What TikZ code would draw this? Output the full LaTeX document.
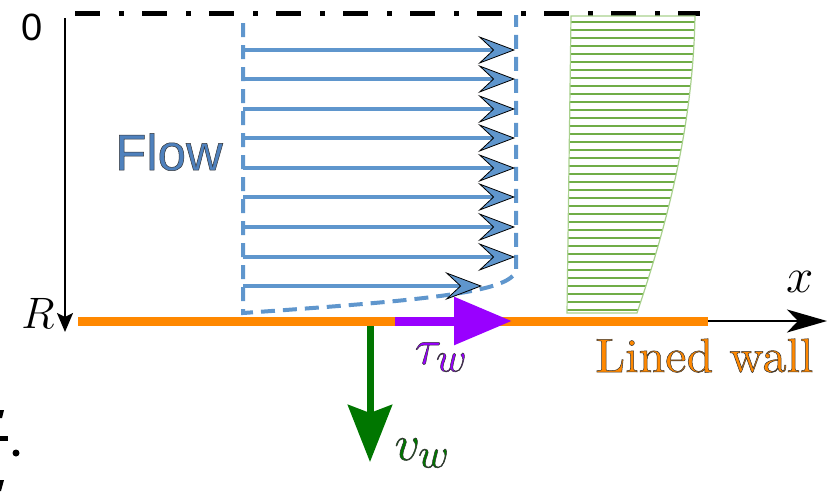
\RequirePackage{fix-cm}
\documentclass[tikz,border=0pt]{standalone}
\usepackage{fontspec}
\setsansfont{Liberation Sans}
\newfontfamily\lmten{lmroman10-regular.otf}
\usetikzlibrary{arrows.meta}
\definecolor{flowblue}{RGB}{95,150,205}
\definecolor{flowtext}{RGB}{79,129,189}
\definecolor{wallorange}{RGB}{255,136,0}
\definecolor{shearpurple}{RGB}{153,0,255}
\definecolor{suctiongreen}{RGB}{0,118,0}
\definecolor{hatchgreen}{RGB}{112,173,71}
\definecolor{rimgreen}{RGB}{169,209,142}
% outlined text (fill + thin dark stroke)
\newcommand{\outlined}[1]{\special{pdf:literal direct 0.2 0.2 0.2 RG 0.5 w 2 Tr}#1\special{pdf:literal direct 0 Tr}}
% symbol with a large subscript
\newcommand{\bigsub}[2]{\fontsize{50}{52}\selectfont$#1_{\mbox{\fontsize{42}{44}\selectfont$#2$}}$}
\begin{document}
\begin{tikzpicture}[x=1pt, y=-1pt,
    every node/.style={inner sep=0pt},
    flowarrow/.style={flowblue, line width=4pt,
      -{Stealth[length=37pt, width=28pt, inset=15pt, color=black, fill=flowblue, line width=0.8pt]}},
    profile/.style={flowblue, line width=4pt, dash pattern=on 14pt off 8pt},
    axis/.style={black, line width=2pt}]
    \useasboundingbox (0,0) rectangle (831,499);

    % axes
    \coordinate (top) at (65,18);
    \coordinate (bottom) at (65,332);
    \coordinate (wallstart) at (78,321);
    \coordinate (wallend) at (708,321);
    \coordinate (xtip) at (827,321);
    \draw[black, line width=5pt, dash pattern=on 25pt off 19pt on 5pt off 18pt] (75,13) -- (700,13);
    \draw[axis, -{Stealth[length=19pt, width=16pt, inset=4pt]}] (top) -- (bottom);
    \draw[axis, -{Stealth[length=40pt, width=23pt, inset=11pt]}] (wallend) -- (xtip);
    \node (zero) at (32,27) {\fontsize{38}{40}\selectfont\sffamily 0};
    \node (rlabel) at (38,313) {\fontsize{44}{46}\selectfont $R$};
    \node (xlabel) at (800,282) {\fontsize{49}{51}\selectfont $x$};

    % velocity profile
    \draw[profile] (243,23) -- (243,313) .. controls (430,300) and (512,292) .. (516,270) -- (516,15);
    \foreach \y in {50,79,109,138,168,197,227,257}
      \draw[flowarrow] (243,\y) -- (515,\y);
    \draw[flowarrow] (243,286) -- (482,286);
    \node[text=flowtext] (flow) at (169,152) {\fontsize{51}{53}\selectfont\sffamily\outlined{Flow}};

    % hatched profile
    \begin{scope}
      \clip (571,16) -- (695,16) .. controls (693,130) and (665,230) .. (637,313) -- (567,313) -- cycle;
      \foreach \i in {0,...,36}
        \draw[hatchgreen, line width=2pt] (560,22+8*\i) -- (700,22+8*\i);
    \end{scope}
    \draw[rimgreen, line width=1.2pt] (571,16) -- (695,16) .. controls (693,130) and (665,230) .. (637,313) -- (567,313) -- cycle;

    % wall, shear and suction
    \draw[wallorange, line width=9pt] (wallstart) -- (wallend);
    \coordinate (shearstart) at (395,321);
    \coordinate (sheartip) at (512,321);
    \draw[shearpurple, line width=9pt, -{Triangle[length=58pt, width=46pt]}] (shearstart) -- (sheartip);
    \coordinate (suctionstart) at (370,326);
    \coordinate (suctiontip) at (370,462);
    \draw[suctiongreen, line width=7pt, -{Stealth[length=57pt, width=44pt, inset=8pt]}] (suctionstart) -- (suctiontip);
    \node[text=shearpurple] (tau) at (441,357) {\outlined{\bigsub{\tau}{w}}};
    \node[text=suctiongreen] (vw) at (422,453) {\outlined{\bigsub{v}{w}}};
    \node[text=wallorange, anchor=base west] (lined) at (595,372) {\fontsize{48}{50}\selectfont\lmten\outlined{Lined wall}};

    % clipped fragment at left edge
    \fill (0,410) -- (4,410) -- (2,418) -- (0,418) -- cycle;
    \fill (0,436) rectangle (8,441);
    \fill (16,453) circle (3.5);
    \fill (0,480) -- (4,480) -- (1,491) -- (0,491) -- cycle;
\end{tikzpicture}
\end{document}
